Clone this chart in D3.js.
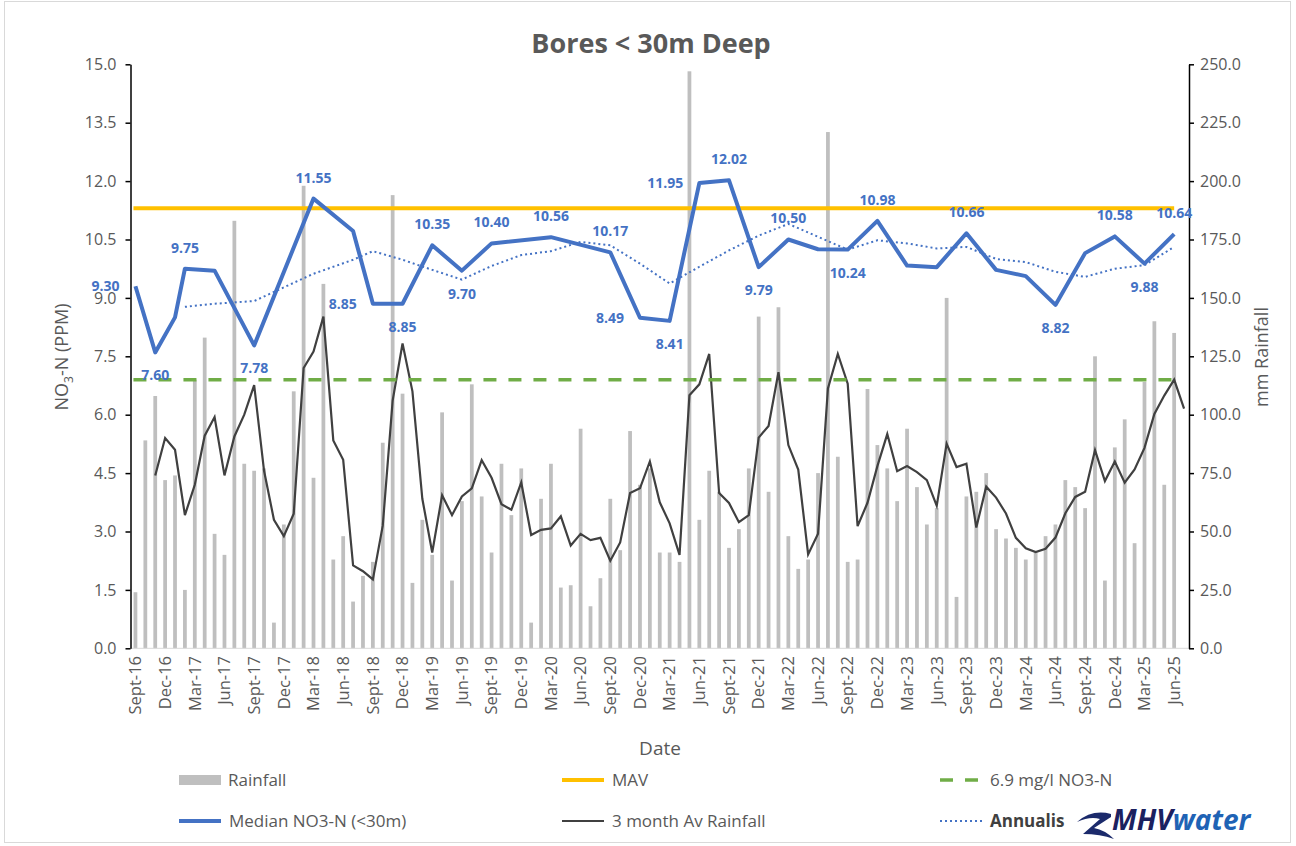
<!DOCTYPE html>
<html>
<head>
<meta charset="utf-8">
<script src="https://cdnjs.cloudflare.com/ajax/libs/d3/7.8.5/d3.min.js"></script>
<style>
  body { margin: 0; background: #fff; }
  svg { display: block; font-family: "Open Sans", sans-serif; }
</style>
</head>
<body>
<div id="chart"></div>
<script>
"use strict";

// monthly rainfall (mm), Sept-16 .. Jul-25
var rainfall = [24, 89, 108, 72, 74, 25, 115, 133, 49, 40,
  183, 79, 76, 77, 11, 53, 110, 198, 73, 156,
  38, 48, 20, 31, 37, 88, 194, 109, 28, 55,
  40, 101, 29, 63, 113, 65, 41, 79, 57, 77,
  11, 64, 79, 26, 27, 94, 18, 30, 64, 42,
  93, 70, 77, 41, 41, 37, 247, 55, 76, 67,
  43, 51, 77, 142, 67, 146, 48, 34, 38, 75,
  221, 82, 37, 38, 111, 87, 77, 63, 94, 69,
  53, 60, 150, 22, 65, 67, 75, 51, 47, 43,
  38, 41, 48, 53, 72, 69, 60, 125, 29, 86,
  98, 45, 114, 140, 70, 135, null];

// 3 month average rainfall (mm), same months
var rain3Month = [null, null, 74, 90, 85, 57, 70, 91, 99, 74,
  90.7, 100, 112.7, 76, 55, 48, 57.6, 120, 127, 142,
  89, 80.7, 35.5, 33, 29.5, 52.5, 106, 130.5, 110, 64,
  41, 65.5, 57, 65, 68.5, 80.5, 73, 61.7, 59.3, 71,
  48.5, 50.7, 51.3, 56.5, 44, 49, 46.3, 47.3, 37.5, 45.3,
  66.5, 68.5, 80, 62.5, 53.5, 40, 108.3, 113, 126, 66.5,
  62.2, 54, 57, 90.2, 95.2, 118.2, 87, 76.5, 40.2, 49,
  111.2, 126, 113.3, 52.3, 62.3, 78, 91.7, 75.8, 78, 75.4,
  72, 61, 87.6, 77.6, 79, 51.7, 69.2, 64.5, 57.7, 47.3,
  42.8, 41.2, 42.6, 47.4, 57.8, 64.8, 67, 84.8, 71.6, 80,
  70.9, 76.6, 85.8, 100.3, 108.2, 115, 102.6];

// median NO3-N (<30m)
var nitrateDates = ["2016-09", "2016-11", "2017-01", "2017-02", "2017-05", "2017-09",
  "2018-03", "2018-07", "2018-09", "2018-12", "2019-03", "2019-06", "2019-09",
  "2020-03", "2020-09", "2020-12", "2021-03", "2021-06", "2021-09", "2021-12",
  "2022-03", "2022-06", "2022-09", "2022-12", "2023-03", "2023-06", "2023-09",
  "2023-12", "2024-03", "2024-06", "2024-09", "2024-12", "2025-03", "2025-06"];
var nitrateValues = [9.30, 7.60, 8.50, 9.75, 9.70, 7.78,
  11.55, 10.72, 8.85, 8.85, 10.35, 9.70, 10.40,
  10.56, 10.17, 8.49, 8.41, 11.95, 12.02, 9.79,
  10.50, 10.25, 10.24, 10.98, 9.83, 9.79, 10.66,
  9.72, 9.56, 8.82, 10.15, 10.58, 9.88, 10.64];

// annualis
var annualisDates = ["2017-02", "2017-05", "2017-09", "2018-03", "2018-07", "2018-09",
  "2018-12", "2019-03", "2019-06", "2019-09", "2019-12", "2020-03", "2020-06",
  "2020-09", "2020-12", "2021-03", "2021-06", "2021-09", "2021-12", "2022-03",
  "2022-06", "2022-09", "2022-12", "2023-03", "2023-06", "2023-09", "2023-12",
  "2024-03", "2024-06", "2024-09", "2024-12", "2025-03", "2025-06"];
var annualisValues = [8.77, 8.85, 8.92, 9.62, 9.98, 10.2,
  9.98, 9.72, 9.47, 9.82, 10.1, 10.2, 10.44,
  10.35, 9.88, 9.37, 9.8, 10.22, 10.6, 10.9,
  10.57, 10.24, 10.48, 10.4, 10.27, 10.31, 10.0,
  9.92, 9.67, 9.54, 9.75, 9.84, 10.31];

var tickLabels = ["Sept-16", "Dec-16", "Mar-17", "Jun-17", "Sept-17", "Dec-17",
  "Mar-18", "Jun-18", "Sept-18", "Dec-18", "Mar-19", "Jun-19", "Sept-19", "Dec-19",
  "Mar-20", "Jun-20", "Sept-20", "Dec-20", "Mar-21", "Jun-21", "Sept-21", "Dec-21",
  "Mar-22", "Jun-22", "Sept-22", "Dec-22", "Mar-23", "Jun-23", "Sept-23", "Dec-23",
  "Mar-24", "Jun-24", "Sept-24", "Dec-24", "Mar-25", "Jun-25"];

var mav = 11.3,
    limit = 6.9,
    refFrom = "2016-09",
    refTo = "2025-06";

// which points carry a data label, and where
var labelPlace = {
  "2016-09": "left", "2016-11": "below", "2017-02": "above", "2017-09": "below",
  "2018-03": "above", "2018-09": "left", "2018-12": "below", "2019-03": "above",
  "2019-06": "below", "2019-09": "above", "2020-03": "above", "2020-09": "above",
  "2020-12": "left", "2021-03": "below", "2021-06": "left", "2021-09": "above",
  "2021-12": "below", "2022-03": "above", "2022-09": "below", "2022-12": "above",
  "2023-09": "above", "2024-06": "below", "2024-12": "above", "2025-03": "below",
  "2025-06": "above"
};

function monthIndex(s) {
  var p = s.split("-");
  return (+p[0] - 2016) * 12 + (+p[1] - 9);
}

var w = 1296, h = 846,
    plotLeft = 130.5, plotRight = 1189, plotTop = 64.3, plotBottom = 648.3,
    axisGrey = "#595959";

var svg = d3.select("#chart")
  .append("svg")
  .attr("width", w)
  .attr("height", h);

svg.append("rect")
  .attr("x", 4.5).attr("y", 1.5)
  .attr("width", 1286).attr("height", 841)
  .attr("fill", "#fff")
  .attr("stroke", "#d9d9d9");

var x = d3.scaleBand().domain(d3.range(rainfall.length)).range([plotLeft, plotRight]);
function cx(i) { return x(i) + x.bandwidth() / 2; }
var yL = d3.scaleLinear().domain([0, 15]).range([plotBottom, plotTop]);
var yR = d3.scaleLinear().domain([0, 250]).range([plotBottom, plotTop]);

// title
svg.append("text")
  .attr("x", 651).attr("y", 53)
  .attr("text-anchor", "middle")
  .attr("font-size", 27).attr("font-weight", "bold")
  .attr("fill", axisGrey)
  .text("Bores < 30m Deep");

// rainfall bars
var bw = x.bandwidth() * 0.38;
svg.append("g").selectAll("rect")
  .data(rainfall.map(function (d, i) { return {i: i, v: d}; }).filter(function (d) { return d.v != null; }))
  .enter()
  .append("rect")
    .attr("x", function (d) { return cx(d.i) - bw / 2; })
    .attr("y", function (d) { return yR(d.v); })
    .attr("width", bw)
    .attr("height", function (d) { return yR(0) - yR(d.v); })
    .attr("fill", "#bfbfbf");

// x axis line
svg.append("line")
  .attr("x1", plotLeft).attr("x2", plotRight)
  .attr("y1", plotBottom).attr("y2", plotBottom)
  .attr("stroke", "#d9d9d9");

// left axis
var gL = svg.append("g")
  .attr("transform", "translate(" + plotLeft + ",0)")
  .call(d3.axisLeft(yL).tickValues(d3.range(0, 15.01, 1.5)).tickFormat(d3.format(".1f"))
    .tickSize(5).tickSizeOuter(0).tickPadding(9));
gL.selectAll("path, line").attr("stroke", "#000").attr("stroke-width", 1.5);
gL.selectAll("text").attr("font-size", 16).attr("fill", axisGrey).attr("font-family", "Open Sans");

// right axis
var gR = svg.append("g")
  .attr("transform", "translate(" + plotRight + ",0)")
  .call(d3.axisRight(yR).tickValues(d3.range(0, 251, 25)).tickFormat(d3.format(".1f"))
    .tickSize(5).tickSizeOuter(0).tickPadding(6));
gR.selectAll("path, line").attr("stroke", "#000").attr("stroke-width", 1.5);
gR.selectAll("text").attr("font-size", 16).attr("fill", axisGrey).attr("font-family", "Open Sans");

// x tick labels every 3 months
svg.append("g").selectAll("text")
  .data(tickLabels)
  .enter()
  .append("text")
    .attr("transform", function (d, i) { return "translate(" + cx(i * 3) + ",656) rotate(-90)"; })
    .attr("text-anchor", "end")
    .attr("dy", "0.35em")
    .attr("font-size", 16.5)
    .attr("fill", axisGrey)
    .text(function (d) { return d; });

// axis titles
svg.append("text")
  .attr("x", 660).attr("y", 755)
  .attr("text-anchor", "middle")
  .attr("font-size", 19).attr("fill", axisGrey)
  .text("Date");

var yt = svg.append("text")
  .attr("transform", "translate(68,357) rotate(-90)")
  .attr("text-anchor", "middle")
  .attr("font-size", 18).attr("fill", axisGrey);
yt.append("tspan").text("NO");
yt.append("tspan").attr("font-size", 12).attr("dy", 5).text("3");
yt.append("tspan").attr("dy", -5).text("-N (PPM)");

svg.append("text")
  .attr("transform", "translate(1268,357) rotate(-90)")
  .attr("text-anchor", "middle")
  .attr("font-size", 18).attr("fill", axisGrey)
  .text("mm Rainfall");

// 3 month average rainfall
var line3 = d3.line()
  .defined(function (d) { return d != null; })
  .x(function (d, i) { return cx(i); })
  .y(function (d) { return yR(d); });
svg.append("path")
  .datum(rain3Month)
  .attr("d", line3)
  .attr("fill", "none")
  .attr("stroke", "#404040")
  .attr("stroke-width", 2.2);

// reference lines
function refLine(v, colour, width, dash) {
  svg.append("line")
    .attr("x1", cx(monthIndex(refFrom)) - 2).attr("x2", cx(monthIndex(refTo)))
    .attr("y1", yL(v)).attr("y2", yL(v))
    .attr("stroke", colour)
    .attr("stroke-width", width)
    .attr("stroke-dasharray", dash);
}
refLine(mav, "#ffc000", 4, null);
refLine(limit, "#70ad47", 3.5, "13 12");

// annualis
var lineN = d3.line()
  .x(function (d) { return cx(monthIndex(d[0])); })
  .y(function (d) { return yL(d[1]); });
svg.append("path")
  .datum(d3.zip(annualisDates, annualisValues))
  .attr("d", lineN)
  .attr("fill", "none")
  .attr("stroke", "#4472c4")
  .attr("stroke-width", 2)
  .attr("stroke-dasharray", "2 3");

// median NO3-N
var nitrate = d3.zip(nitrateDates, nitrateValues);
svg.append("path")
  .datum(nitrate)
  .attr("d", lineN)
  .attr("fill", "none")
  .attr("stroke", "#4472c4")
  .attr("stroke-width", 4)
  .attr("stroke-linejoin", "round");

svg.append("g").selectAll("text")
  .data(nitrate.filter(function (d) { return labelPlace[d[0]]; }))
  .enter()
  .append("text")
    .attr("x", function (d) {
      var p = labelPlace[d[0]];
      return cx(monthIndex(d[0])) + (p === "left" ? -16 : 0);
    })
    .attr("y", function (d) {
      var p = labelPlace[d[0]];
      return yL(d[1]) + (p === "above" ? -21 : p === "below" ? 23 : 0);
    })
    .attr("dy", "0.35em")
    .attr("text-anchor", function (d) { return labelPlace[d[0]] === "left" ? "end" : "middle"; })
    .attr("font-size", 14)
    .attr("font-weight", "bold")
    .attr("fill", "#4472c4")
    .text(function (d) { return d3.format(".2f")(d[1]); });

// legend
var legendItems = [
  {name: "Rainfall", kind: "bar", colour: "#bfbfbf", x: 179, y: 780},
  {name: "MAV", kind: "line", colour: "#ffc000", width: 4, x: 562, y: 780},
  {name: "6.9 mg/l NO3-N", kind: "line", colour: "#70ad47", width: 3.5, dash: "13 12", x: 940, y: 780},
  {name: "Median NO3-N (<30m)", kind: "line", colour: "#4472c4", width: 4, x: 179, y: 821},
  {name: "3 month Av Rainfall", kind: "line", colour: "#404040", width: 2.2, x: 562, y: 821},
  {name: "Annualis", kind: "line", colour: "#4472c4", width: 2, dash: "2 3", x: 940, y: 821, bold: true}
];
var lg = svg.append("g").selectAll("g")
  .data(legendItems)
  .enter()
  .append("g")
    .attr("transform", function (d) { return "translate(" + d.x + "," + d.y + ")"; });
lg.filter(function (d) { return d.kind === "bar"; })
  .append("rect")
    .attr("x", 0).attr("y", -5).attr("width", 42).attr("height", 10)
    .attr("fill", function (d) { return d.colour; });
lg.filter(function (d) { return d.kind === "line"; })
  .append("line")
    .attr("x1", 0).attr("x2", function (d) { return d.dash === "13 12" ? 38 : 42; })
    .attr("stroke", function (d) { return d.colour; })
    .attr("stroke-width", function (d) { return d.width; })
    .attr("stroke-dasharray", function (d) { return d.dash || null; });
lg.append("text")
  .attr("x", function (d) { return d.kind === "bar" ? 49 : 50; })
  .attr("dy", "0.35em")
  .attr("font-size", 17)
  .attr("font-weight", function (d) { return d.bold ? "bold" : null; })
  .attr("fill", function (d) { return d.bold ? "#404040" : axisGrey; })
  .text(function (d) { return d.name; });

// MHVwater logo
var logo = svg.append("g");
logo.append("path")
  .attr("d", "M1077,822 Q1092,809 1111,814 L1111,817 L1094,828 Q1105,830 1114,839 Q1100,834 1083,834 L1100,819 Q1090,816 1077,822 Z")
  .attr("fill", "#1b2a6b");
var lt = logo.append("text")
  .attr("x", 1112).attr("y", 830)
  .attr("font-size", 28)
  .attr("font-weight", "bold")
  .attr("font-style", "italic");
lt.append("tspan").attr("fill", "#1b2160").text("MHV");
lt.append("tspan").attr("fill", "#1f63b5").text("water");
</script>
</body>
</html>
